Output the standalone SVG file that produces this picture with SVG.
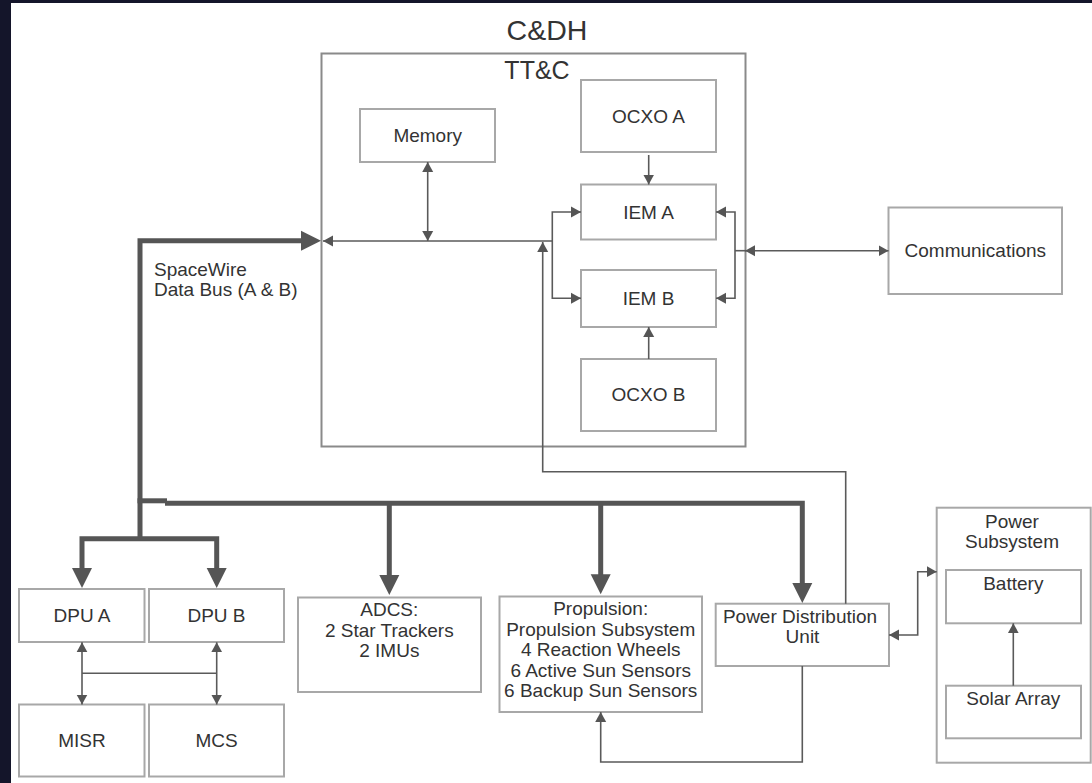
<svg xmlns="http://www.w3.org/2000/svg" width="1092" height="783" viewBox="0 0 1092 783">
<style>
.box{fill:#fff;stroke:#a8a8a8;stroke-width:2}
.frame{fill:none;stroke:#8a8a8a;stroke-width:2}
.t{font-family:"Liberation Sans",Arial,sans-serif;font-size:19px;fill:#333;text-anchor:middle}
.thin{fill:none;stroke:#5a5a5a;stroke-width:1.6}
.thick{fill:none;stroke:#555;stroke-width:5;stroke-linejoin:miter}
</style>
<defs>
<marker id="a" markerUnits="userSpaceOnUse" markerWidth="11" markerHeight="12" refX="10" refY="5.5" orient="auto-start-reverse" viewBox="0 0 11 11"><path d="M0,0 L10,5.5 L0,11 z" fill="#555"/></marker>
<marker id="A" markerUnits="userSpaceOnUse" markerWidth="21" markerHeight="21" refX="10" refY="10" orient="auto-start-reverse" viewBox="0 0 21 20"><path d="M0,0 L20,10 L0,20 z" fill="#555"/></marker>
</defs>
<rect x="0" y="0" width="1092" height="783" fill="#14152a"/>
<rect x="11" y="3" width="1081" height="780" fill="#fff"/>

<g id="cdh-title"><text class="t" x="547" y="40" style="font-size:28.5px">C&amp;DH</text></g>
<g id="ttc"><rect class="frame" x="321.5" y="53.5" width="424" height="393"/><text class="t" x="537" y="79" style="font-size:25px">TT&amp;C</text></g>
<g id="memory"><rect class="box" x="360" y="109" width="135" height="53"/><text class="t" x="427.7" y="142">Memory</text></g>
<g id="ocxo-a"><rect class="box" x="581" y="80" width="135" height="72"/><text class="t" x="648.5" y="122.5">OCXO A</text></g>
<g id="iem-a"><rect class="box" x="581" y="184.5" width="135" height="55"/><text class="t" x="648.5" y="218.5">IEM A</text></g>
<g id="iem-b"><rect class="box" x="581" y="270" width="135" height="57"/><text class="t" x="648.5" y="305">IEM B</text></g>
<g id="ocxo-b"><rect class="box" x="581" y="359" width="135" height="72"/><text class="t" x="648.5" y="401">OCXO B</text></g>
<g id="communications"><rect class="box" x="888.5" y="207.5" width="173.5" height="86.5"/><text class="t" x="975.3" y="257">Communications</text></g>
<g id="spacewire-label"><text class="t" x="154" y="276" style="text-anchor:start">SpaceWire</text><text class="t" x="154" y="296" style="text-anchor:start">Data Bus (A &amp; B)</text></g>
<g id="dpu-a"><rect class="box" x="19" y="589" width="125.5" height="53"/><text class="t" x="82" y="622">DPU A</text></g>
<g id="dpu-b"><rect class="box" x="149" y="589" width="135" height="53"/><text class="t" x="216.5" y="622">DPU B</text></g>
<g id="misr"><rect class="box" x="19" y="704.5" width="125.5" height="72"/><text class="t" x="82" y="746.5">MISR</text></g>
<g id="mcs"><rect class="box" x="149" y="704.5" width="135" height="72"/><text class="t" x="216.5" y="746.5">MCS</text></g>
<g id="adcs"><rect class="box" x="298" y="597.5" width="183" height="94.5"/><text class="t" x="389.3" y="616">ADCS:</text><text class="t" x="389.3" y="636.5">2 Star Trackers</text><text class="t" x="389.3" y="657">2 IMUs</text></g>
<g id="propulsion"><rect class="box" x="499.5" y="596.5" width="202.5" height="115.5"/><text class="t" x="600.7" y="615">Propulsion:</text><text class="t" x="600.7" y="635.5">Propulsion Subsystem</text><text class="t" x="600.7" y="656">4 Reaction Wheels</text><text class="t" x="600.7" y="676.5">6 Active Sun Sensors</text><text class="t" x="600.7" y="697">6 Backup Sun Sensors</text></g>
<g id="pdu"><rect class="box" x="715.7" y="603.7" width="173.3" height="62.3"/><text class="t" x="800" y="623">Power Distribution</text><text class="t" x="802.5" y="643">Unit</text></g>
<g id="power-subsystem"><rect class="box" x="936.7" y="507.7" width="154" height="255"/><text class="t" x="1012" y="528">Power</text><text class="t" x="1012" y="547.5">Subsystem</text></g>
<g id="battery"><rect class="box" x="946" y="570" width="135" height="53.3"/><text class="t" x="1013.3" y="590">Battery</text></g>
<g id="solar-array"><rect class="box" x="946" y="685.7" width="135" height="52.6"/><text class="t" x="1013.3" y="705">Solar Array</text></g>

<g id="connectors">
<path class="thick" d="M140,540 V240.7 H311" marker-end="url(#A)"/>
<path class="thick" d="M137.5,500.8 H167"/>
<path class="thick" d="M165,503.2 H802.3 V593" marker-end="url(#A)"/>
<path class="thick" d="M82,578 V538.7 H216.7 V578" marker-start="url(#A)" marker-end="url(#A)"/>
<path class="thick" d="M389.3,503 V585" marker-end="url(#A)"/>
<path class="thick" d="M600.7,503 V584.3" marker-end="url(#A)"/>

<path class="thin" d="M552.3,241 H323" marker-end="url(#a)"/>
<path class="thin" d="M427.7,162 V241" marker-start="url(#a)" marker-end="url(#a)"/>
<path class="thin" d="M845.7,603.7 V471.7 H542.7 V242" marker-end="url(#a)"/>
<path class="thin" d="M581,212 H552.3 V298.3 H581" marker-start="url(#a)" marker-end="url(#a)"/>
<path class="thin" d="M716,212 H735 V298.3 H716" marker-start="url(#a)" marker-end="url(#a)"/>
<path class="thin" d="M648.7,155 V184.5" marker-end="url(#a)"/>
<path class="thin" d="M648.7,359 V327" marker-end="url(#a)"/>
<path class="thin" d="M745,250.7 H888.5" marker-start="url(#a)" marker-end="url(#a)"/>
<path class="thin" d="M735,250.7 H746"/>
<path class="thin" d="M82,642.3 V704.5" marker-start="url(#a)" marker-end="url(#a)"/>
<path class="thin" d="M216.7,642.3 V704.5" marker-start="url(#a)" marker-end="url(#a)"/>
<path class="thin" d="M82,673.3 H216.7"/>
<path class="thin" d="M802.3,666 V762 H600.7 V712" marker-end="url(#a)"/>
<path class="thin" d="M889,635 H917.7 V571.7 H936.7" marker-start="url(#a)" marker-end="url(#a)"/>
<path class="thin" d="M1013.3,685.7 V623.3" marker-end="url(#a)"/>
</g>
</svg>
